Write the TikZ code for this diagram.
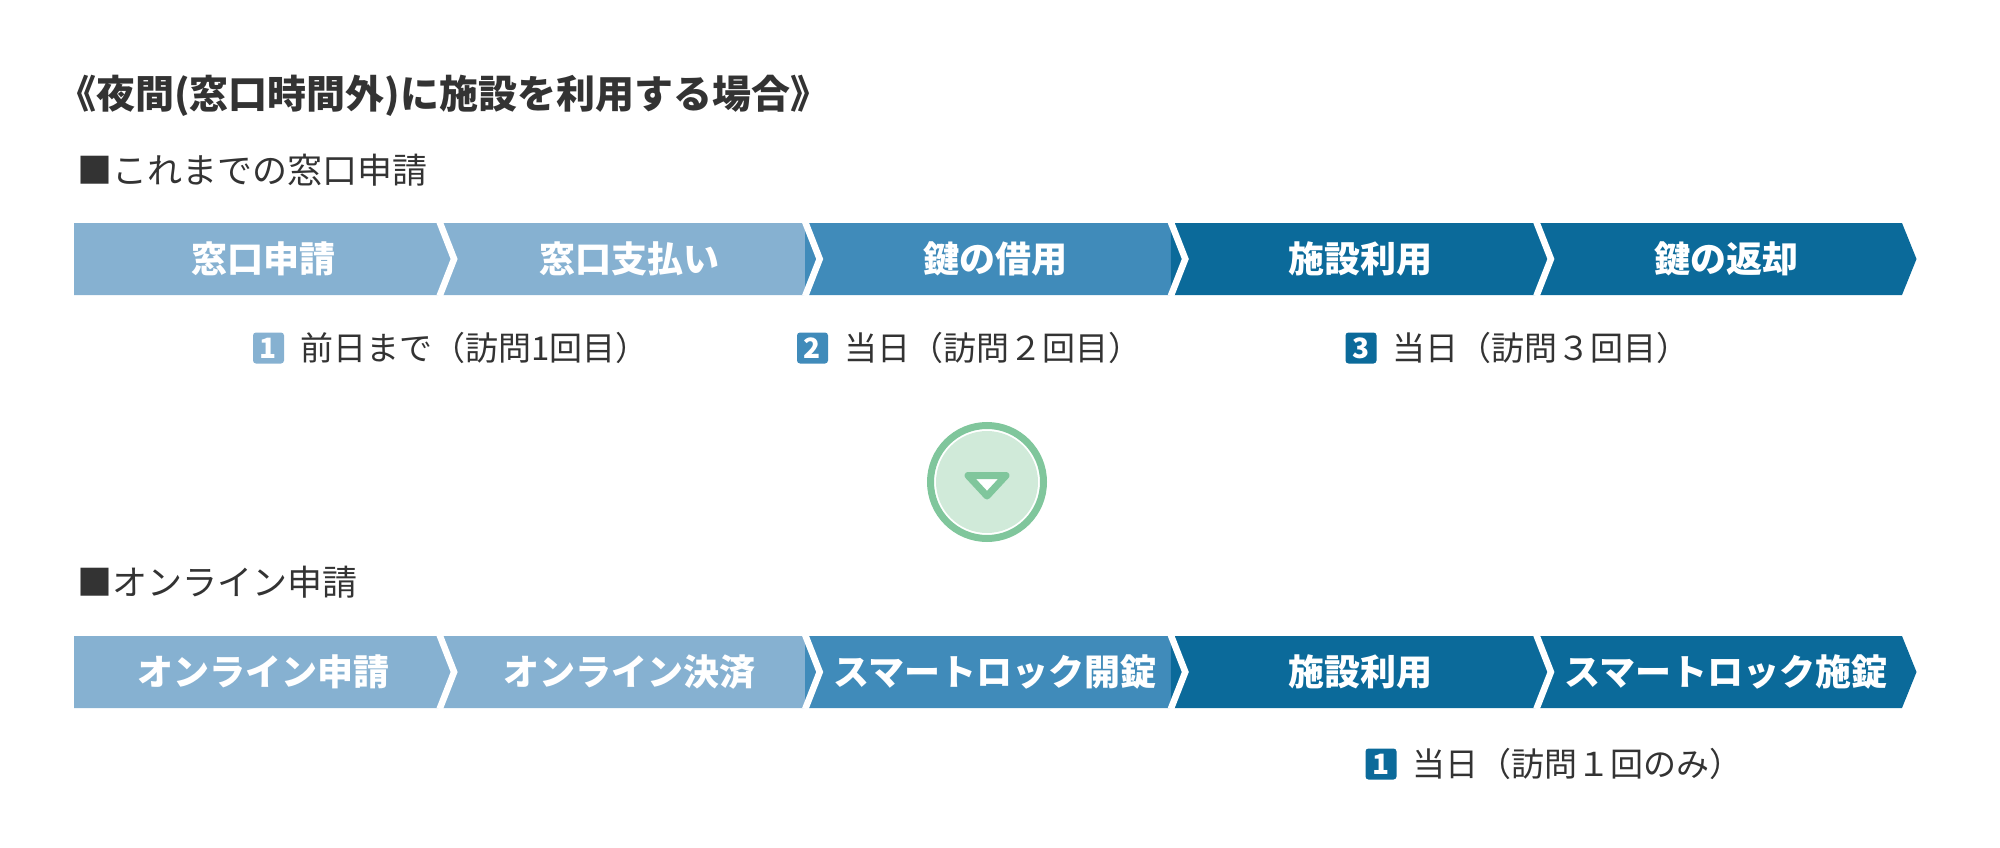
\documentclass[tikz,border=0pt]{standalone}
\usepackage{fontspec}
\setmainfont{Noto Sans CJK JP}
\usetikzlibrary{calc}
\usetikzlibrary{positioning}
\definecolor{stepLight}{HTML}{86B1D1}
\definecolor{stepMid}{HTML}{408BBA}
\definecolor{stepDark}{HTML}{0B6A9A}
\definecolor{textGray}{HTML}{333333}
\definecolor{ringGreen}{HTML}{80C69C}
\definecolor{fillGreen}{HTML}{D0EAD9}
\tikzset{
  heading/.style={anchor=west, inner sep=0pt, text=textGray, font=\bfseries\fontsize{39}{42}\selectfont},
  section/.style={anchor=west, inner sep=0pt, text=textGray, font=\fontsize{35}{40}\selectfont},
  steptext/.style={inner sep=0pt, text=white, font=\bfseries\fontsize{36}{40}\selectfont},
  gap/.style={draw=white, line width=6.5pt},
  badge/.style={rectangle, rounded corners=3pt, minimum size=31pt, inner sep=0pt, text=white, font=\bfseries\fontsize{28}{30}\selectfont},
  visit/.style={anchor=west, inner sep=0pt, text=textGray, font=\fontsize{33}{38}\selectfont},
  ring/.style={circle, draw=ringGreen, line width=7pt, minimum size=113pt, inner sep=0pt},
  turn/.style={draw=ringGreen, fill=white, line width=7pt, line join=round}
  }

\begin{document}
\begin{tikzpicture}[x=1pt, y=-1pt]
	\useasboundingbox (0,0) rectangle (2000,848);

	% Headings
	\node[heading] (title) at (57,96) {《夜間(窓口時間外)に施設を利用する場合》};
	\node[section] (before) at (77,170) {■これまでの窓口申請};
	\node[section] (online) at (77,582) {■オンライン申請};

	% Steps (counter)
	\foreach \i/\col/\txt in {0/stepLight/窓口申請, 1/stepLight/窓口支払い, 2/stepMid/鍵の借用, 3/stepDark/施設利用, 4/stepDark/鍵の返却}{
		\pgfmathsetmacro\b{74+365.6*\i}
		\pgfmathsetmacro\e{\b+365.6}
		\fill[\col] (\b,223) -- (\e,223) -- (\e+14.5,259) -- (\e,295) -- (\b,295) -- cycle;
		\node[steptext] (old\i) at ({(\b+\e)/2+7},259) {\txt};
	}
	\foreach \i in {1,...,4}
		\draw[gap] (74+365.6*\i,222) -- (88.5+365.6*\i,259) -- (74+365.6*\i,296);

	% Steps (online)
	\foreach \i/\col/\txt in {0/stepLight/オンライン申請, 1/stepLight/オンライン決済, 2/stepMid/スマートロック開錠, 3/stepDark/施設利用, 4/stepDark/スマートロック施錠}{
		\pgfmathsetmacro\b{74+365.6*\i}
		\pgfmathsetmacro\e{\b+365.6}
		\fill[\col] (\b,636) -- (\e,636) -- (\e+14.5,672) -- (\e,708) -- (\b,708) -- cycle;
		\node[steptext] (new\i) at ({(\b+\e)/2+7},672) {\txt};
	}
	\foreach \i in {1,...,4}
		\draw[gap] (74+365.6*\i,635) -- (88.5+365.6*\i,672) -- (74+365.6*\i,709);

	% Visits
	\node[badge, fill=stepLight] (badgeA) at (268.5,348) {1};
	\node[visit, right=16pt of badgeA] (visitA) {前日まで（訪問1回目）};
	\node[badge, fill=stepMid] (badgeB) at (812.5,348) {2};
	\node[visit, right=16pt of badgeB] (visitB) {当日（訪問２回目）};
	\node[badge, fill=stepDark] (badgeC) at (1361,348) {3};
	\node[visit, right=16pt of badgeC] (visitC) {当日（訪問３回目）};
	\node[badge, fill=stepDark] (badgeD) at (1381,764) {1};
	\node[visit, right=16pt of badgeD] (visitD) {当日（訪問１回のみ）};

	% Turn mark
	\node[ring] (mark) at (987,482) {};
	\fill[fillGreen] (mark.center) circle (51);
	\draw[turn] ($(mark.center)+(-19,-6.5)$) -- ($(mark.center)+(19,-6.5)$) -- ($(mark.center)+(0,14)$) -- cycle;

\end{tikzpicture}
\end{document}
